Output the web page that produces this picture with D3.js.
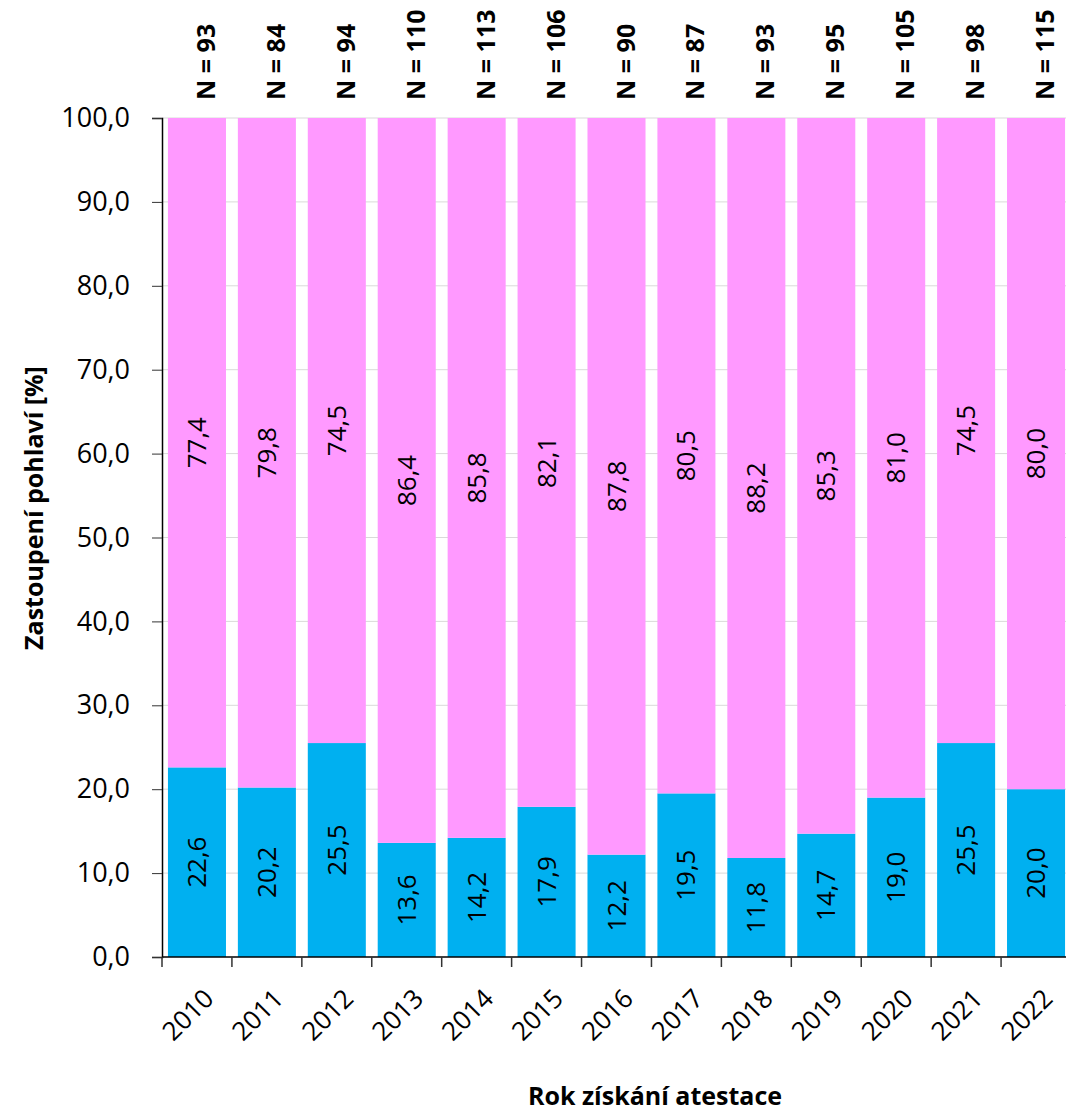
<html>
<head>
<meta charset="utf-8">
<script src="https://d3js.org/d3.v7.min.js"></script>
<style>
body { margin: 0; background: white; }
text { font-family: "Open Sans", sans-serif; }
</style>
</head>
<body>
<svg width="1066" height="1113"></svg>
<script>
// data
var years = ["2010","2011","2012","2013","2014","2015","2016","2017","2018","2019","2020","2021","2022"];
var blue = [22.6, 20.2, 25.5, 13.6, 14.2, 17.9, 12.2, 19.5, 11.8, 14.7, 19.0, 25.5, 20.0];
var pink = [77.4, 79.8, 74.5, 86.4, 85.8, 82.1, 87.8, 80.5, 88.2, 85.3, 81.0, 74.5, 80.0];
var counts = [93, 84, 94, 110, 113, 106, 90, 87, 93, 95, 105, 98, 115];
var yTicks = [0, 10, 20, 30, 40, 50, 60, 70, 80, 90, 100];

var pLeft = 162, pRight = 1071, pTop = 118, pBottom = 957;
var fmt = function(v) { return v.toFixed(1).replace(".", ","); };

var svg = d3.select("svg");
var x = d3.scaleBand().domain(years).range([pLeft, pRight]).paddingInner(0.17).paddingOuter(0.085);
var y = d3.scaleLinear().domain([0, 100]).range([pBottom, pTop]);
var mid = function(yr) { return x(yr) + x.bandwidth() / 2; };

// grid
svg.append("g").selectAll("line").data(yTicks.slice(1)).enter().append("line")
  .attr("x1", pLeft).attr("x2", pRight)
  .attr("y1", function(d) { return y(d); }).attr("y2", function(d) { return y(d); })
  .attr("stroke", "#d9d9d9").attr("stroke-width", 1);

var rows = years.map(function(yr, i) { return {year: yr, b: blue[i], p: pink[i], n: counts[i]}; });

// blue segments
svg.append("g").selectAll("rect").data(rows).enter().append("rect")
  .attr("x", function(d) { return x(d.year); })
  .attr("width", x.bandwidth())
  .attr("y", function(d) { return y(d.b); })
  .attr("height", function(d) { return y(0) - y(d.b); })
  .attr("fill", "#00b0f0");

// pink segments
svg.append("g").selectAll("rect").data(rows).enter().append("rect")
  .attr("x", function(d) { return x(d.year); })
  .attr("width", x.bandwidth())
  .attr("y", function(d) { return y(d.b + d.p); })
  .attr("height", function(d) { return y(d.b) - y(d.b + d.p); })
  .attr("fill", "#ff99ff");

// value labels
function vlabel(val, pos) {
  svg.append("g").selectAll("text").data(rows).enter().append("text")
    .attr("transform", function(d) {
      return "translate(" + (mid(d.year) + 9) + "," + y(pos(d)) + ") rotate(-90)";
    })
    .attr("text-anchor", "middle")
    .attr("font-size", 26)
    .attr("fill", "#000")
    .text(function(d) { return fmt(val(d)); });
}
vlabel(function(d) { return d.b; }, function(d) { return d.b / 2; });
vlabel(function(d) { return d.p; }, function(d) { return d.b + d.p / 2; });

// N labels
svg.append("g").selectAll("text").data(rows).enter().append("text")
  .attr("transform", function(d) {
    return "translate(" + (mid(d.year) + 18) + ",100) rotate(-90)";
  })
  .attr("font-size", 25).attr("font-weight", "bold")
  .text(function(d) { return "N = " + d.n; });

// y axis
var yAxis = d3.axisLeft(y).tickValues(yTicks).tickFormat(fmt).tickSize(10).tickPadding(22);
var gy = svg.append("g").attr("transform", "translate(" + pLeft + ",0)").call(yAxis);
gy.select(".domain").attr("stroke", "#000").attr("stroke-width", 1.5);
gy.selectAll(".tick line").attr("stroke", "#333");
gy.selectAll("text").attr("font-size", 27).attr("font-family", "Open Sans").attr("fill", "#000");

// x axis: ticks at band boundaries
var bounds = years.map(function(yr) { return x(yr) - x.step() * x.paddingInner() / 2; });
var gx = svg.append("g");
gx.append("line").attr("x1", pLeft).attr("x2", pRight).attr("y1", pBottom).attr("y2", pBottom)
  .attr("stroke", "#000").attr("stroke-width", 1.5);
gx.selectAll(".tk").data(bounds).enter().append("line")
  .attr("x1", function(d) { return d; }).attr("x2", function(d) { return d; })
  .attr("y1", pBottom).attr("y2", pBottom + 10).attr("stroke", "#333").attr("stroke-width", 1.5);
gx.selectAll("text").data(years).enter().append("text")
  .attr("transform", function(d) {
    return "translate(" + (mid(d) + 5) + ",987) rotate(-45)";
  })
  .attr("text-anchor", "end").attr("dy", "0.72em")
  .attr("font-size", 26).text(function(d) { return d; });

// axis titles
svg.append("text")
  .attr("transform", "translate(43,508) rotate(-90)")
  .attr("text-anchor", "middle").attr("font-size", 25).attr("font-weight", "bold")
  .text("Zastoupení pohlaví [%]");
svg.append("text")
  .attr("x", 655).attr("y", 1105)
  .attr("text-anchor", "middle").attr("font-size", 25).attr("font-weight", "bold")
  .text("Rok získání atestace");
</script>
</body>
</html>
